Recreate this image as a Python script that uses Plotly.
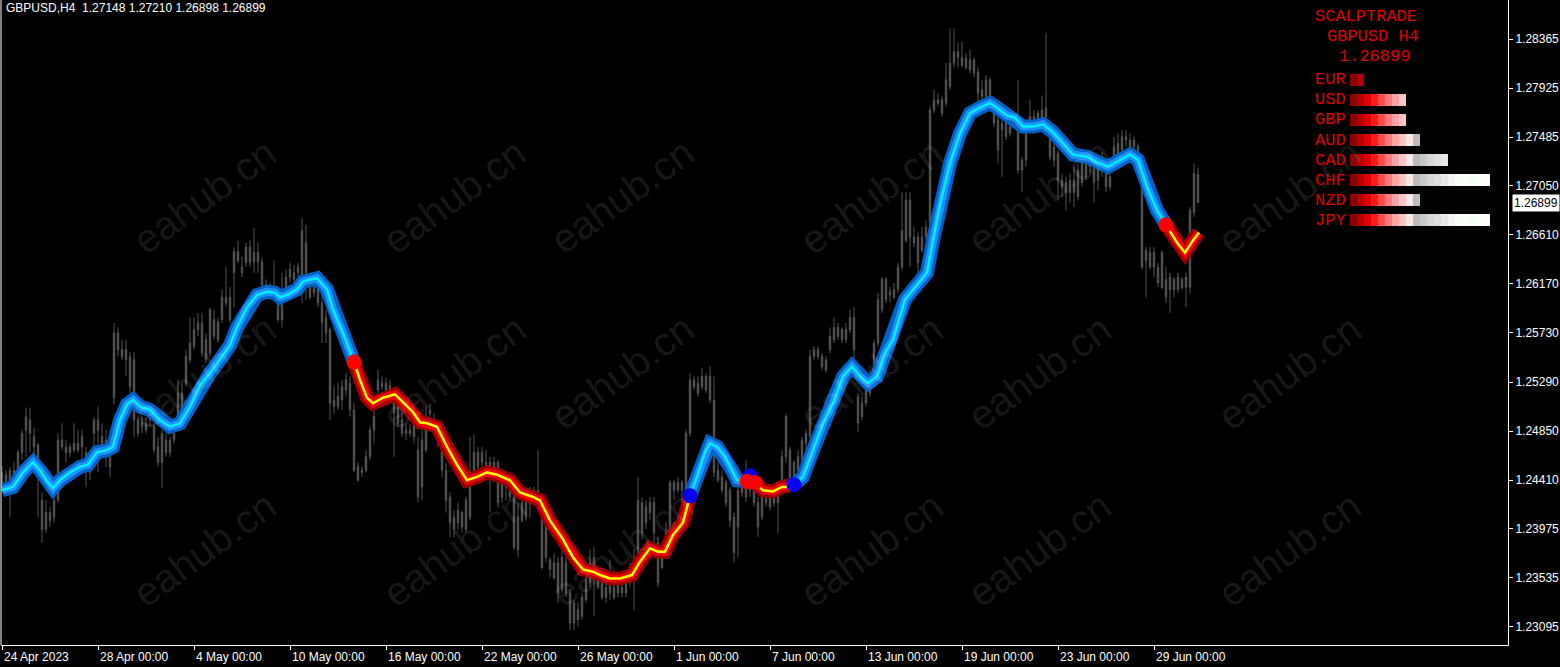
import plotly.graph_objects as go

# GBPUSD H4 candles, bar 0 = 24 Apr 2023 00:00
opens = [
    1.2448, 1.2446, 1.2450, 1.2450, 1.2466, 1.2483, 1.2498, 1.2495, 1.2480, 1.2473,
    1.2423, 1.2412, 1.2412, 1.2423, 1.2423, 1.2477, 1.2471, 1.2471, 1.2474, 1.2474,
    1.2480, 1.2466, 1.2457, 1.2495, 1.2495, 1.2480, 1.2477, 1.2462, 1.2515, 1.2573,
    1.2558, 1.2558, 1.2552, 1.2549, 1.2495, 1.2493, 1.2492, 1.2501, 1.2489, 1.2471,
    1.2483, 1.2477, 1.2477, 1.2483, 1.2489, 1.2519, 1.2528, 1.2564, 1.2576, 1.2582,
    1.2582, 1.2567, 1.2555, 1.2585, 1.2583, 1.2605, 1.2605, 1.2605, 1.2627, 1.2646,
    1.2632, 1.2650, 1.2650, 1.2645, 1.2645, 1.2637, 1.2616, 1.2614, 1.2612, 1.2605,
    1.2603, 1.2623, 1.2630, 1.2627, 1.2632, 1.2665, 1.2654, 1.2618, 1.2618, 1.2612,
    1.2600, 1.2587, 1.2576, 1.2513, 1.2516, 1.2525, 1.2531, 1.2528, 1.2504, 1.2453,
    1.2450, 1.2450, 1.2462, 1.2486, 1.2531, 1.2528, 1.2528, 1.2526, 1.2513, 1.2507,
    1.2495, 1.2486, 1.2486, 1.2501, 1.2468, 1.2477, 1.2495, 1.2504, 1.2495, 1.2489,
    1.2474, 1.2450, 1.2426, 1.2408, 1.2414, 1.2412, 1.2423, 1.2444, 1.2466, 1.2466,
    1.2466, 1.2457, 1.2457, 1.2457, 1.2457, 1.2444, 1.2444, 1.2439, 1.2430, 1.2408,
    1.2421, 1.2423, 1.2430, 1.2432, 1.2432, 1.2423, 1.2403, 1.2370, 1.2367, 1.2367,
    1.2372, 1.2367, 1.2340, 1.2331, 1.2325, 1.2336, 1.2352, 1.2367, 1.2372, 1.2352,
    1.2349, 1.2345, 1.2349, 1.2345, 1.2349, 1.2345, 1.2349, 1.2361, 1.2367, 1.2379,
    1.2421, 1.2417, 1.2421, 1.2421, 1.2385, 1.2372, 1.2394, 1.2388, 1.2439, 1.2439,
    1.2439, 1.2421, 1.2483, 1.2531, 1.2528, 1.2534, 1.2534, 1.2534, 1.2513, 1.2450,
    1.2444, 1.2439, 1.2432, 1.2408, 1.2399, 1.2439, 1.2439, 1.2441, 1.2439, 1.2421,
    1.2426, 1.2426, 1.2426, 1.2430, 1.2432, 1.2432, 1.2462, 1.2468, 1.2457, 1.2462,
    1.2459, 1.2474, 1.2480, 1.2558, 1.2558, 1.2552, 1.2549, 1.2570, 1.2578, 1.2578,
    1.2576, 1.2576, 1.2587, 1.2587, 1.2516, 1.2510, 1.2510, 1.2519, 1.2534, 1.2564,
    1.2594, 1.2621, 1.2610, 1.2612, 1.2612, 1.2632, 1.2692, 1.2692, 1.2659, 1.2659,
    1.2659, 1.2668, 1.2672, 1.2782, 1.2782, 1.2782, 1.2779, 1.2794, 1.2815, 1.2825,
    1.2820, 1.2819, 1.2818, 1.2818, 1.2807, 1.2791, 1.2800, 1.2800, 1.2782, 1.2764,
    1.2761, 1.2764, 1.2758, 1.2767, 1.2755, 1.2728, 1.2728, 1.2758, 1.2767, 1.2770,
    1.2773, 1.2775, 1.2749, 1.2740, 1.2734, 1.2710, 1.2708, 1.2710, 1.2710, 1.2719,
    1.2725, 1.2728, 1.2734, 1.2725, 1.2722, 1.2731, 1.2716, 1.2713, 1.2740, 1.2743,
    1.2749, 1.2749, 1.2746, 1.2746, 1.2740, 1.2704, 1.2647, 1.2645, 1.2645, 1.2632,
    1.2645, 1.2621, 1.2623, 1.2621, 1.2623, 1.2621, 1.2623, 1.2614, 1.2681, 1.27148,
]
highs = [
    1.2454, 1.2450, 1.2453, 1.2457, 1.2468, 1.2486, 1.2506, 1.2506, 1.2488, 1.2474,
    1.2430, 1.2423, 1.2417, 1.2430, 1.2483, 1.2492, 1.2477, 1.2474, 1.2492, 1.2486,
    1.2486, 1.2471, 1.2459, 1.2498, 1.2507, 1.2492, 1.2486, 1.2466, 1.2582, 1.2578,
    1.2567, 1.2567, 1.2556, 1.2556, 1.2498, 1.2498, 1.2497, 1.2504, 1.2492, 1.2480,
    1.2486, 1.2483, 1.2480, 1.2489, 1.2531, 1.2528, 1.2558, 1.2587, 1.2587, 1.2591,
    1.2591, 1.2573, 1.2596, 1.2594, 1.2587, 1.2612, 1.2632, 1.2614, 1.2650, 1.2656,
    1.2641, 1.2654, 1.2656, 1.2667, 1.2654, 1.2640, 1.2621, 1.2618, 1.2638, 1.2609,
    1.2627, 1.2630, 1.2636, 1.2634, 1.2636, 1.2676, 1.2670, 1.2623, 1.2623, 1.2616,
    1.2612, 1.2594, 1.2578, 1.2525, 1.2528, 1.2531, 1.2537, 1.2534, 1.2510, 1.2457,
    1.2453, 1.2468, 1.2489, 1.2504, 1.2540, 1.2534, 1.2533, 1.2531, 1.2522, 1.2513,
    1.2504, 1.2492, 1.2491, 1.2507, 1.2480, 1.2486, 1.2507, 1.2509, 1.2501, 1.2495,
    1.2480, 1.2457, 1.2430, 1.2414, 1.2421, 1.2414, 1.2426, 1.2480, 1.2482, 1.2471,
    1.2471, 1.2468, 1.2462, 1.2462, 1.2459, 1.2450, 1.2448, 1.2444, 1.2435, 1.2421,
    1.2426, 1.2426, 1.2435, 1.2435, 1.2468, 1.2426, 1.2408, 1.2372, 1.2376, 1.2372,
    1.2379, 1.2372, 1.2343, 1.2334, 1.2331, 1.2340, 1.2354, 1.2379, 1.2381, 1.2361,
    1.2361, 1.2352, 1.2370, 1.2352, 1.2354, 1.2352, 1.2354, 1.2367, 1.2379, 1.2444,
    1.2426, 1.2423, 1.2426, 1.2426, 1.2390, 1.2379, 1.2403, 1.2441, 1.2441, 1.2444,
    1.2441, 1.2486, 1.2537, 1.2534, 1.2534, 1.2542, 1.2537, 1.2543, 1.2534, 1.2457,
    1.2450, 1.2441, 1.2435, 1.2412, 1.2435, 1.2444, 1.2459, 1.2448, 1.2441, 1.2426,
    1.2430, 1.2432, 1.2430, 1.2432, 1.2435, 1.2468, 1.2500, 1.2471, 1.2459, 1.2468,
    1.2480, 1.2486, 1.2558, 1.2561, 1.2561, 1.2555, 1.2552, 1.2578, 1.2587, 1.2582,
    1.2578, 1.2582, 1.2594, 1.2596, 1.2519, 1.2516, 1.2534, 1.2540, 1.2567, 1.2609,
    1.2623, 1.2623, 1.2614, 1.2618, 1.2636, 1.2699, 1.2699, 1.2699, 1.2668, 1.2663,
    1.2668, 1.2674, 1.2776, 1.2791, 1.2788, 1.2785, 1.2815, 1.2846, 1.2846, 1.2833,
    1.2834, 1.2824, 1.2827, 1.2820, 1.2811, 1.2800, 1.2804, 1.2802, 1.2785, 1.2767,
    1.2767, 1.2767, 1.2764, 1.2770, 1.2800, 1.2731, 1.2758, 1.2782, 1.2773, 1.2773,
    1.2786, 1.2842, 1.2752, 1.2746, 1.2737, 1.2716, 1.2713, 1.2716, 1.2722, 1.2725,
    1.2728, 1.2731, 1.2737, 1.2731, 1.2725, 1.2735, 1.2722, 1.2719, 1.2749, 1.2752,
    1.2755, 1.2755, 1.2752, 1.2749, 1.2743, 1.2710, 1.2650, 1.2650, 1.2650, 1.2636,
    1.2647, 1.2632, 1.2627, 1.2623, 1.2627, 1.2623, 1.2627, 1.2686, 1.2725, 1.27210,
]
lows = [
    1.2431, 1.2434, 1.2408, 1.2431, 1.2446, 1.2459, 1.2462, 1.2466, 1.2462, 1.2408,
    1.2385, 1.2394, 1.2399, 1.2403, 1.2421, 1.2468, 1.2457, 1.2462, 1.2466, 1.2466,
    1.2450, 1.2435, 1.2441, 1.2462, 1.2448, 1.2468, 1.2453, 1.2444, 1.2509, 1.2552,
    1.2549, 1.2534, 1.2519, 1.2480, 1.2480, 1.2483, 1.2483, 1.2489, 1.2466, 1.2453,
    1.2434, 1.2462, 1.2462, 1.2474, 1.2486, 1.2492, 1.2525, 1.2546, 1.2558, 1.2570,
    1.2552, 1.2546, 1.2552, 1.2567, 1.2564, 1.2582, 1.2596, 1.2582, 1.2596, 1.2636,
    1.2623, 1.2632, 1.2632, 1.2627, 1.2627, 1.2614, 1.2609, 1.2607, 1.2603, 1.2583,
    1.2578, 1.2603, 1.2618, 1.2618, 1.2623, 1.2600, 1.2603, 1.2603, 1.2605, 1.2596,
    1.2564, 1.2564, 1.2495, 1.2501, 1.2504, 1.2504, 1.2516, 1.2498, 1.2448, 1.2440,
    1.2444, 1.2448, 1.2459, 1.2474, 1.2519, 1.2522, 1.2519, 1.2516, 1.2462, 1.2489,
    1.2480, 1.2477, 1.2480, 1.2474, 1.2421, 1.2423, 1.2466, 1.2495, 1.2486, 1.2471,
    1.2444, 1.2412, 1.2390, 1.2390, 1.2397, 1.2394, 1.2394, 1.2405, 1.2444, 1.2448,
    1.2450, 1.2448, 1.2412, 1.2439, 1.2417, 1.2421, 1.2423, 1.2423, 1.2379, 1.2372,
    1.2403, 1.2405, 1.2408, 1.2423, 1.2421, 1.2361, 1.2367, 1.2354, 1.2352, 1.2331,
    1.2340, 1.2336, 1.2307, 1.2307, 1.2310, 1.2316, 1.2331, 1.2345, 1.2319, 1.2343,
    1.2334, 1.2331, 1.2334, 1.2334, 1.2336, 1.2336, 1.2336, 1.2345, 1.2325, 1.2376,
    1.2388, 1.2397, 1.2405, 1.2385, 1.2345, 1.2361, 1.2379, 1.2385, 1.2423, 1.2430,
    1.2421, 1.2417, 1.2480, 1.2522, 1.2516, 1.2522, 1.2519, 1.2510, 1.2444, 1.2439,
    1.2430, 1.2417, 1.2399, 1.2367, 1.2372, 1.2426, 1.2421, 1.2426, 1.2417, 1.2390,
    1.2405, 1.2417, 1.2414, 1.2417, 1.2394, 1.2430, 1.2457, 1.2439, 1.2439, 1.2448,
    1.2457, 1.2468, 1.2477, 1.2549, 1.2549, 1.2540, 1.2537, 1.2555, 1.2564, 1.2567,
    1.2564, 1.2564, 1.2573, 1.2549, 1.2484, 1.2495, 1.2507, 1.2516, 1.2531, 1.2561,
    1.2591, 1.2600, 1.2600, 1.2603, 1.2609, 1.2630, 1.2654, 1.2632, 1.2650, 1.2627,
    1.2645, 1.2656, 1.2656, 1.2770, 1.2776, 1.2767, 1.2776, 1.2791, 1.2811, 1.2811,
    1.2811, 1.2809, 1.2806, 1.2802, 1.2776, 1.2782, 1.2773, 1.2779, 1.2758, 1.2725,
    1.2713, 1.2746, 1.2749, 1.2758, 1.2716, 1.2699, 1.2722, 1.2755, 1.2758, 1.2761,
    1.2758, 1.2764, 1.2728, 1.2722, 1.2692, 1.2695, 1.2683, 1.2690, 1.2686, 1.2692,
    1.2704, 1.2710, 1.2716, 1.2690, 1.2701, 1.2713, 1.2699, 1.2701, 1.2722, 1.2728,
    1.2734, 1.2740, 1.2737, 1.2737, 1.2719, 1.2630, 1.2605, 1.2630, 1.2623, 1.2614,
    1.2612, 1.2600, 1.2591, 1.2605, 1.2609, 1.2612, 1.2596, 1.2609, 1.2677, 1.26898,
]
closes = [
    1.2438, 1.2440, 1.2439, 1.2444, 1.2450, 1.2466, 1.2486, 1.2483, 1.2471, 1.2457,
    1.2397, 1.2397, 1.2405, 1.2408, 1.2477, 1.2471, 1.2466, 1.2466, 1.2468, 1.2468,
    1.2471, 1.2448, 1.2448, 1.2483, 1.2486, 1.2471, 1.2462, 1.2453, 1.2573, 1.2558,
    1.2552, 1.2549, 1.2525, 1.2495, 1.2483, 1.2489, 1.2486, 1.2495, 1.2468, 1.2457,
    1.2457, 1.2466, 1.2466, 1.2477, 1.2519, 1.2495, 1.2552, 1.2549, 1.2561, 1.2576,
    1.2555, 1.2549, 1.2594, 1.2570, 1.2567, 1.2585, 1.2600, 1.2585, 1.2646, 1.2638,
    1.2627, 1.2636, 1.2636, 1.2637, 1.2637, 1.2616, 1.2610, 1.2612, 1.2605, 1.2585,
    1.2585, 1.2605, 1.2623, 1.2621, 1.2627, 1.2612, 1.2627, 1.2605, 1.2609, 1.2600,
    1.2582, 1.2573, 1.2510, 1.2507, 1.2507, 1.2513, 1.2522, 1.2504, 1.2450, 1.2441,
    1.2448, 1.2462, 1.2486, 1.2498, 1.2522, 1.2525, 1.2522, 1.2522, 1.2501, 1.2492,
    1.2483, 1.2483, 1.2483, 1.2480, 1.2426, 1.2435, 1.2468, 1.2501, 1.2489, 1.2474,
    1.2450, 1.2423, 1.2403, 1.2397, 1.2403, 1.2399, 1.2397, 1.2408, 1.2450, 1.2453,
    1.2457, 1.2450, 1.2444, 1.2450, 1.2421, 1.2426, 1.2435, 1.2426, 1.2381, 1.2379,
    1.2405, 1.2408, 1.2421, 1.2426, 1.2423, 1.2363, 1.2372, 1.2361, 1.2354, 1.2340,
    1.2343, 1.2340, 1.2313, 1.2313, 1.2316, 1.2319, 1.2334, 1.2349, 1.2361, 1.2345,
    1.2336, 1.2336, 1.2340, 1.2336, 1.2340, 1.2340, 1.2340, 1.2349, 1.2354, 1.2423,
    1.2394, 1.2403, 1.2412, 1.2394, 1.2349, 1.2363, 1.2385, 1.2439, 1.2432, 1.2432,
    1.2432, 1.2483, 1.2531, 1.2525, 1.2519, 1.2525, 1.2522, 1.2513, 1.2448, 1.2441,
    1.2432, 1.2421, 1.2405, 1.2376, 1.2432, 1.2430, 1.2426, 1.2432, 1.2421, 1.2399,
    1.2408, 1.2421, 1.2417, 1.2421, 1.2421, 1.2462, 1.2498, 1.2441, 1.2441, 1.2450,
    1.2477, 1.2483, 1.2552, 1.2552, 1.2552, 1.2543, 1.2540, 1.2558, 1.2567, 1.2570,
    1.2567, 1.2567, 1.2576, 1.2558, 1.2492, 1.2498, 1.2528, 1.2534, 1.2564, 1.2603,
    1.2621, 1.2603, 1.2607, 1.2605, 1.2632, 1.2665, 1.2656, 1.2659, 1.2654, 1.2636,
    1.2647, 1.2659, 1.2773, 1.2773, 1.2779, 1.2770, 1.2800, 1.2815, 1.2825, 1.2820,
    1.2813, 1.2811, 1.2809, 1.2806, 1.2788, 1.2785, 1.2785, 1.2782, 1.2761, 1.2737,
    1.2755, 1.2749, 1.2752, 1.2761, 1.2719, 1.2719, 1.2755, 1.2767, 1.2761, 1.2764,
    1.2764, 1.2767, 1.2731, 1.2728, 1.2710, 1.2704, 1.2699, 1.2699, 1.2699, 1.2695,
    1.2708, 1.2713, 1.2722, 1.2708, 1.2710, 1.2719, 1.2704, 1.2704, 1.2725, 1.2731,
    1.2737, 1.2746, 1.2740, 1.2740, 1.2728, 1.2632, 1.2638, 1.2632, 1.2632, 1.2618,
    1.2614, 1.2605, 1.2612, 1.2612, 1.2612, 1.2614, 1.2614, 1.2683, 1.2716, 1.26899,
]

# trend line (bar position, price)
ma_bars = [
    0, 2.75, 5.25, 7.75, 9.5, 11.25, 12.75, 14.5, 17, 19.5,
    21.5, 23.75, 26.25, 27.75, 29.5, 31.25, 32.75, 34.5, 37, 39.5,
    42, 44.5, 47, 49.5, 52, 54.5, 57, 58.75, 61.25, 63.75,
    66.25, 68.25, 69.5, 71.25, 73.75, 75.25, 77, 78.75, 81.25, 82.75,
    85.25, 88, 89.5, 91.25, 92.75, 95.25, 98.25, 100.25, 102.75, 104.5,
    106.25, 108.75, 111.25, 113.75, 116.25, 118.75, 121.25, 123.75, 127, 129.5,
    132.75, 134.5, 137, 140.25, 142.75, 145.25, 147.75, 149.5, 152, 154.5,
    157.5, 159.5, 162, 164, 165.75, 167.75, 170.25, 172, 173.75, 175.75,
    177, 178.75, 180.75, 182.5, 183.75, 185.25, 186.25, 187.25, 188.25, 190.25,
    192.75, 195, 197, 198, 200.25, 202.75, 205.25, 207.75, 210.25, 212.5,
    214.5, 216.5, 218.75, 220.75, 222.75, 225.75, 227.75, 229.5, 231.25, 232.75,
    234.5, 237, 239.5, 242, 244.5, 247, 248.75, 251.25, 253.25, 255.25,
    257.75, 260.25, 262.75, 265.25, 267.75, 271.25, 273.75, 276.5, 279.5, 282,
    284, 286.25, 288.75, 291, 293.75, 295.75, 297.75, 299.25,
]
ma_vals = [
    1.2432, 1.2435, 1.2448, 1.2457, 1.2450, 1.2440, 1.2434, 1.2441, 1.2448, 1.2453,
    1.2455, 1.2466, 1.2468, 1.2471, 1.2495, 1.2509, 1.2513, 1.2507, 1.2504, 1.2495,
    1.2489, 1.2492, 1.2507, 1.2526, 1.2537, 1.2549, 1.2562, 1.2578, 1.2596, 1.2607,
    1.2610, 1.2609, 1.2605, 1.2607, 1.2612, 1.2619, 1.2621, 1.2622, 1.2612, 1.2594,
    1.2573, 1.2547, 1.2531, 1.2515, 1.2510, 1.2515, 1.2518, 1.2511, 1.2502, 1.2493,
    1.2492, 1.2489, 1.2471, 1.2455, 1.2441, 1.2444, 1.2448, 1.2446, 1.2441, 1.2430,
    1.2426, 1.2423, 1.2405, 1.2388, 1.2372, 1.2361, 1.2359, 1.2356, 1.2353, 1.2353,
    1.2356, 1.2368, 1.2380, 1.2377, 1.2377, 1.2392, 1.2403, 1.2427, 1.2444, 1.2466,
    1.2474, 1.2471, 1.2462, 1.2450, 1.2441, 1.2440, 1.2440, 1.2441, 1.2439, 1.2432,
    1.2431, 1.2435, 1.2435, 1.2437, 1.2444, 1.2468, 1.2492, 1.2510, 1.2534, 1.2543,
    1.2534, 1.2528, 1.2534, 1.2555, 1.2567, 1.2603, 1.2612, 1.2619, 1.2627, 1.2656,
    1.2688, 1.2725, 1.2752, 1.2770, 1.2775, 1.2779, 1.2775, 1.2768, 1.2766, 1.2758,
    1.2758, 1.2760, 1.2753, 1.2743, 1.2733, 1.2731, 1.2726, 1.2722, 1.2728, 1.2733,
    1.2728, 1.2704, 1.2683, 1.2670, 1.2654, 1.2645, 1.2656, 1.2663,
]
flip_bars = [88, 172, 186.25, 198, 291]   # trend changes: up, down, up, down, up, down

sell_bars = [88, 186.25, 188.25, 291]
sell_prices = [1.2547, 1.2440, 1.2439, 1.2670]
buy_bars = [172, 187, 198]
buy_prices = [1.2427, 1.2445, 1.2437]

# axis labels
time_bars = [0, 24, 48, 72, 96, 120, 144, 168, 192, 216, 240, 264, 288]
time_labels = ["24 Apr 2023", "28 Apr 00:00", "4 May 00:00", "10 May 00:00", "16 May 00:00",
               "22 May 00:00", "26 May 00:00", "1 Jun 00:00", "7 Jun 00:00", "13 Jun 00:00",
               "19 Jun 00:00", "23 Jun 00:00", "29 Jun 00:00"]
price_ticks = [1.28365, 1.27925, 1.27485, 1.27050, 1.26610, 1.26170, 1.25730,
               1.25290, 1.24850, 1.24410, 1.23975, 1.23535, 1.23095]
last_price = 1.26899

# currency strength panel
currencies = ["EUR", "USD", "GBP", "AUD", "CAD", "CHF", "NZD", "JPY"]
strength = [2, 8, 8, 10, 14, 20, 10, 20]
step_colors = ["#8c0000", "#b00000", "#e00000", "#ff1a1a", "#ff4d4d", "#ff7a7a", "#ffa3a3",
               "#ffc4c4", "#ffe6e6", "#bdbdbd", "#c8c8c8", "#d4d4d4", "#dedede", "#e8e8e8",
               "#f2f2f2", "#f8fff8", "#fafffa", "#f4fff4", "#fcfffc", "#ffffff"]

CANDLE = "#555555"
W, H = 1560, 667
L, R, T, B = 1, 52, 0, 22
PW, PH = W - L - R, H - T - B


def px_x(px):
    return (px - L) / PW


def px_y(py):
    return 1 - (py - T) / PH


fig = go.Figure()

fig.add_trace(go.Candlestick(
    x=list(range(len(closes))), open=opens, high=highs, low=lows, close=closes,
    increasing=dict(line=dict(color=CANDLE, width=1), fillcolor=CANDLE),
    decreasing=dict(line=dict(color=CANDLE, width=1), fillcolor=CANDLE),
    whiskerwidth=0, hoverinfo="skip"))

# trend line split into up / down pieces
up_style = [("#0062c4", 14), ("#1e90ff", 8), ("#00f0ff", 2.5)]
dn_style = [("#9a0000", 14), ("#f00000", 8), ("#ffff00", 2.5)]
bounds = [ma_bars[0]] + flip_bars + [ma_bars[-1]]
for layer in range(3):
    for k in range(len(bounds) - 1):
        idx = [i for i, b in enumerate(ma_bars) if bounds[k] <= b <= bounds[k + 1]]
        color, width = (up_style if k % 2 == 0 else dn_style)[layer]
        fig.add_trace(go.Scatter(
            x=[ma_bars[i] for i in idx], y=[ma_vals[i] for i in idx], mode="lines",
            line=dict(color=color, width=width), hoverinfo="skip"))

fig.add_trace(go.Scatter(x=buy_bars, y=buy_prices, mode="markers",
                         marker=dict(color="#0000f5", size=15), hoverinfo="skip"))
fig.add_trace(go.Scatter(x=sell_bars, y=sell_prices, mode="markers",
                         marker=dict(color="#ff0000", size=15), hoverinfo="skip"))

# strength bars
z = [[c if c < s else None for c in range(len(step_colors))] for s in strength]
n = len(step_colors) - 1
fig.add_trace(go.Heatmap(
    z=z, x=list(range(len(step_colors))), y=list(range(len(currencies))),
    xaxis="x2", yaxis="y2", zmin=0, zmax=n,
    colorscale=[[i / n, c] for i, c in enumerate(step_colors)],
    showscale=False, ygap=8, xgap=0, hoverinfo="skip"))

ann = []
# watermark
for wy in [127, 372, 618]:
    for wx in [122, 372, 622, 872, 1122, 1372]:
        ann.append(dict(xref="paper", yref="paper", x=px_x(wx), y=px_y(wy), text="eahub.cn",
                        showarrow=False, textangle=-36,
                        font=dict(family="Liberation Sans, Arial", size=40,
                                  color="rgba(255,255,255,0.11)")))
# time labels
for b, t in zip(time_bars, time_labels):
    ann.append(dict(xref="x", yref="paper", x=b, y=0, xanchor="left", yanchor="top",
                    xshift=0, yshift=-3, text=t, showarrow=False,
                    font=dict(family="Liberation Sans, Arial", size=12, color="white")))
# header
ann.append(dict(xref="paper", yref="paper", x=px_x(4), y=1, xanchor="left", yanchor="top",
                yshift=1, showarrow=False,
                text="GBPUSD,H4&nbsp;&nbsp;1.27148 1.27210 1.26898 1.26899",
                font=dict(family="Liberation Sans, Arial", size=12, color="white")))
# last price box
ann.append(dict(xref="paper", yref="y", x=1, y=last_price, xanchor="left", yanchor="middle",
                xshift=4, text=f"{last_price:.5f}", showarrow=False, bgcolor="white",
                borderpad=1, font=dict(family="Liberation Sans, Arial", size=12, color="black")))
# panel text
mono = dict(family="Liberation Mono, Courier New, monospace", size=17, color="#e00000")
for txt, x0, y0 in [("SCALPTRADE", 1313, 16), ("GBPUSD H4", 1325, 36), (f"{last_price:.5f}", 1337, 56)]:
    ann.append(dict(xref="paper", yref="paper", x=px_x(x0), y=px_y(y0), xanchor="left",
                    yanchor="middle", text=txt, showarrow=False, font=mono))
for i, cur in enumerate(currencies):
    ann.append(dict(xref="paper", yref="y2", x=px_x(1313), y=i, xanchor="left",
                    yanchor="middle", text=cur, showarrow=False, font=mono))

fig.update_layout(
    width=W, height=H, margin=dict(l=L, r=R, t=T, b=B),
    paper_bgcolor="black", plot_bgcolor="black", showlegend=False, boxgap=0.5,
    annotations=ann,
    xaxis=dict(range=[-0.25, PW / 4 - 0.25], showgrid=False, zeroline=False,
               showline=True, linecolor="white", linewidth=1,
               ticks="outside", tickvals=time_bars, ticklen=4, tickcolor="white",
               showticklabels=False, rangeslider=dict(visible=False)),
    yaxis=dict(side="right", range=[1.22933, 1.28715], showgrid=False, zeroline=False,
               showline=True, linecolor="white", linewidth=1,
               ticks="outside", ticklen=4, tickcolor="white",
               tickvals=price_ticks, ticktext=[f"{p:.5f}" for p in price_ticks],
               tickfont=dict(family="Liberation Sans, Arial", size=12, color="white")),
    xaxis2=dict(domain=[px_x(1350), px_x(1490)], range=[-0.5, n + 0.5], visible=False,
                anchor="y2"),
    yaxis2=dict(domain=[px_y(230), px_y(70)], range=[len(currencies) - 0.5, -0.5],
                visible=False, anchor="x2"),
    shapes=[dict(type="line", xref="paper", yref="paper", x0=0, x1=0, y0=0, y1=1,
                 line=dict(color="white", width=1))],
)

# page body has a default 8px margin; drop it so the figure sits at the window corner
fig.write_html("out.html", config={"displayModeBar": False},
               post_script="document.body.style.margin='0px';")
